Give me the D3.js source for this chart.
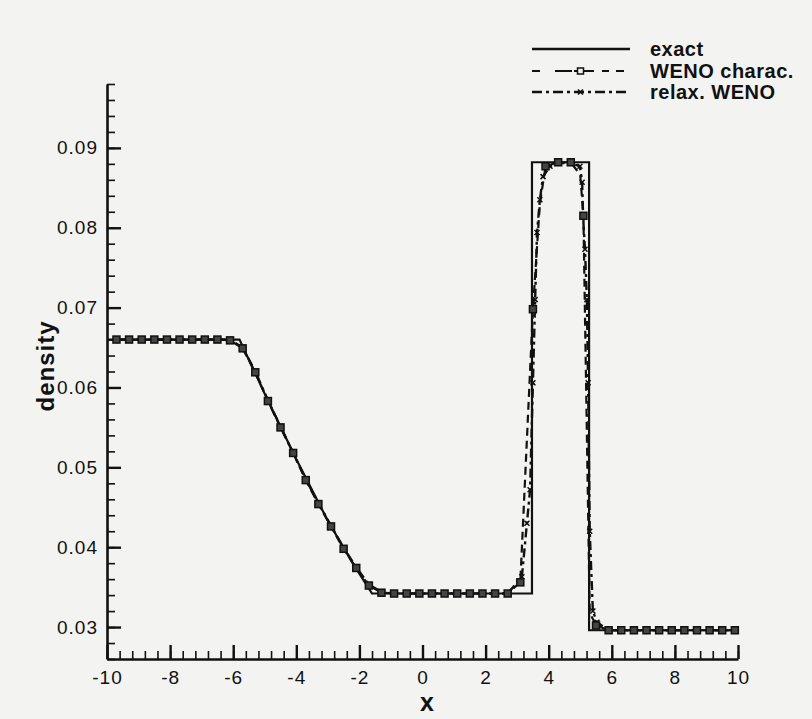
<!DOCTYPE html>
<html>
<head>
<meta charset="utf-8">
<script src="https://cdn.jsdelivr.net/npm/d3@7"></script>
<style>
  html, body { margin: 0; padding: 0; background: #f3f3f1; }
  svg { display: block; }
  text { font-family: "Liberation Sans", Arial, sans-serif; fill: #111; }
</style>
</head>
<body>
<svg id="chart" width="812" height="719"></svg>
<script>
// ---- data ----
const xTicks = [-10, -8, -6, -4, -2, 0, 2, 4, 6, 8, 10];
const yTicks = [0.03, 0.04, 0.05, 0.06, 0.07, 0.08, 0.09];
const legendLabels = ["exact", "WENO charac.", "relax. WENO"];

const exactX = [-10, -5.8, -5.0, -4.0, -3.0, -2.2, -1.6, 3.47, 3.47, 5.28, 5.28, 10];
const exactY = [0.066, 0.066, 0.0592, 0.0510, 0.0433, 0.0379, 0.0342, 0.0342, 0.0882, 0.0882, 0.0296, 0.0296];

// WENO charac. : marked grid points (every 0.4) plus a few unmarked line points
const wenoX = [-9.7, -9.3, -8.9, -8.5, -8.1, -7.7, -7.3, -6.9, -6.5, -6.1,
               -5.7, -5.3, -4.9, -4.5, -4.1, -3.7, -3.3, -2.9, -2.5, -2.1, -1.7, -1.3,
               -0.9, -0.5, -0.1, 0.3, 0.7, 1.1, 1.5, 1.9, 2.3, 2.7,
               3.1, 3.5, 3.72, 3.9, 4.3, 4.7, 5.0, 5.1, 5.3, 5.5,
               5.9, 6.3, 6.7, 7.1, 7.5, 7.9, 8.3, 8.7, 9.1, 9.5, 9.9];
const wenoY = [0.066, 0.066, 0.066, 0.066, 0.066, 0.066, 0.066, 0.066, 0.066, 0.0659,
               0.0649, 0.0619, 0.0583, 0.0550, 0.0518, 0.0484, 0.0454, 0.0426, 0.0398, 0.0374, 0.0352, 0.0343,
               0.0342, 0.0342, 0.0342, 0.0342, 0.0342, 0.0342, 0.0342, 0.0342, 0.0342, 0.0342,
               0.0356, 0.0698, 0.0830, 0.0877, 0.0882, 0.0882, 0.0866, 0.0815, 0.0318, 0.0302,
               0.0296, 0.0296, 0.0296, 0.0296, 0.0296, 0.0296, 0.0296, 0.0296, 0.0296, 0.0296, 0.0296];
const wenoUnmarked = [3.72, 5.0, 5.3];

const relaxX = [-9.7, -8.9, -8.1, -7.3, -6.5, -6.1, -5.7, -5.3, -4.9, -4.5, -4.1, -3.7, -3.3, -2.9,
                -2.5, -2.1, -1.7, -1.3, -0.9, 0.3, 1.5, 2.7, 3.15, 3.31, 3.41, 3.5, 3.57, 3.63, 3.72,
                3.82, 4.04, 4.3, 4.7, 4.99, 5.06, 5.09, 5.15, 5.21, 5.25, 5.3, 5.4, 5.53, 5.9, 7.1,
                8.3, 9.5, 9.9];
const relaxY = [0.066, 0.066, 0.066, 0.066, 0.066, 0.066, 0.0650, 0.0620, 0.0584, 0.0551, 0.0518, 0.0485, 0.0455, 0.0427,
                0.0399, 0.0375, 0.0353, 0.0344, 0.0342, 0.0342, 0.0342, 0.0342, 0.0363, 0.0430, 0.0472, 0.0606, 0.0710, 0.0794, 0.0835,
                0.0864, 0.0877, 0.0881, 0.0881, 0.0877, 0.0857, 0.0814, 0.0773, 0.0710, 0.0606, 0.0420, 0.0320, 0.0306, 0.0296, 0.0296,
                0.0296, 0.0296, 0.0296];

// ---- layout ----
const svg = d3.select("#chart");
const x = d3.scaleLinear().domain([-10, 10]).range([107, 738]);
const y = d3.scaleLinear().domain([0.026, 0.098]).range([659, 84]);

const xMinor = d3.range(0, 51).map(i => -10 + i * 0.4);
const yMinor = d3.range(13, 50).map(i => +(i * 0.002).toFixed(3));

// minor ticks
svg.append("g").attr("transform", `translate(0,${y(0.026)})`)
  .call(d3.axisBottom(x).tickValues(xMinor).tickSize(-8).tickFormat(""))
  .call(g => g.select(".domain").remove())
  .call(g => g.selectAll("line").attr("stroke", "#111").attr("stroke-width", 1.6));
svg.append("g").attr("transform", `translate(${x(-10)},0)`)
  .call(d3.axisLeft(y).tickValues(yMinor).tickSize(-8).tickFormat(""))
  .call(g => g.select(".domain").remove())
  .call(g => g.selectAll("line").attr("stroke", "#111").attr("stroke-width", 1.6));

// major axes
const xAxis = svg.append("g").attr("transform", `translate(0,${y(0.026)})`)
  .call(d3.axisBottom(x).tickValues(xTicks).tickSize(-14).tickPadding(12).tickFormat(d => String(d)).tickSizeOuter(0));
xAxis.select(".domain").attr("stroke", "#111").attr("stroke-width", 2.6);
xAxis.selectAll("line").attr("stroke", "#111").attr("stroke-width", 2.4);
xAxis.selectAll("text").attr("font-size", 19).attr("letter-spacing", "1px")
  .attr("fill", "#111").style("font-family", "Liberation Sans, Arial, sans-serif");

const yAxis = svg.append("g").attr("transform", `translate(${x(-10)},0)`)
  .call(d3.axisLeft(y).tickValues(yTicks).tickSize(-14).tickPadding(9).tickFormat(d3.format(".2f")).tickSizeOuter(0));
yAxis.select(".domain").attr("stroke", "#111").attr("stroke-width", 2.6);
yAxis.selectAll("line").attr("stroke", "#111").attr("stroke-width", 2.4);
yAxis.selectAll("text").attr("font-size", 19).attr("letter-spacing", "1px")
  .attr("fill", "#111").style("font-family", "Liberation Sans, Arial, sans-serif");

// axis titles
svg.append("text").attr("x", 427).attr("y", 711).attr("text-anchor", "middle")
  .attr("font-size", 25).attr("font-weight", "bold").text("x");
svg.append("text").attr("transform", `translate(54,366) rotate(-90)`).attr("text-anchor", "middle")
  .attr("font-size", 24).attr("font-weight", "bold").attr("letter-spacing", "1px").text("density");

// ---- series ----
const line = d3.line().x(d => x(d[0])).y(d => y(d[1]));
const exactPts = exactX.map((v, i) => [v, exactY[i]]);
const wenoPts = wenoX.map((v, i) => [v, wenoY[i]]);
const relaxPts = relaxX.map((v, i) => [v, relaxY[i]]);

svg.append("path").datum(relaxPts).attr("d", line).attr("fill", "none")
  .attr("stroke", "#111").attr("stroke-width", 2.4).attr("stroke-dasharray", "9,4,3,4");
svg.append("path").datum(wenoPts).attr("d", line).attr("fill", "none")
  .attr("stroke", "#111").attr("stroke-width", 2.2).attr("stroke-dasharray", "8,5");
svg.append("path").datum(exactPts).attr("d", line).attr("fill", "none")
  .attr("stroke", "#111").attr("stroke-width", 2.2);

// relax markers (small x)
svg.append("g").selectAll("path").data(relaxPts).join("path")
  .attr("d", d => { const cx = x(d[0]), cy = y(d[1]); return `M${cx-2.5},${cy-2.5}L${cx+2.5},${cy+2.5}M${cx-2.5},${cy+2.5}L${cx+2.5},${cy-2.5}`; })
  .attr("stroke", "#111").attr("stroke-width", 1.5);
// weno markers (squares)
svg.append("g").selectAll("rect").data(wenoPts.filter(d => !wenoUnmarked.includes(d[0]))).join("rect")
  .attr("x", d => x(d[0]) - 3.5).attr("y", d => y(d[1]) - 3.5)
  .attr("width", 7).attr("height", 7)
  .attr("fill", "#444").attr("stroke", "#111").attr("stroke-width", 1.5);

// ---- legend ----
const lg = svg.append("g");
const legY = [49, 71, 92];
lg.append("line").attr("x1", 532).attr("x2", 630).attr("y1", legY[0]).attr("y2", legY[0])
  .attr("stroke", "#111").attr("stroke-width", 2.6);
lg.append("line").attr("x1", 532).attr("x2", 630).attr("y1", legY[1]).attr("y2", legY[1])
  .attr("stroke", "#111").attr("stroke-width", 2).attr("stroke-dasharray", "8,15,17,2,20,8,7,7");
lg.append("rect").attr("x", 577.5).attr("y", legY[1] - 3).attr("width", 6).attr("height", 6)
  .attr("fill", "#f3f3f1").attr("stroke", "#111").attr("stroke-width", 1.5);
lg.append("line").attr("x1", 532).attr("x2", 630).attr("y1", legY[2]).attr("y2", legY[2])
  .attr("stroke", "#111").attr("stroke-width", 2.4).attr("stroke-dasharray", "10,4,3,4");
lg.append("path").attr("d", `M578,${legY[2]-2.5}L583,${legY[2]+2.5}M578,${legY[2]+2.5}L583,${legY[2]-2.5}`)
  .attr("stroke", "#111").attr("stroke-width", 1.5);
lg.selectAll("text.leg").data(legendLabels).join("text").attr("class", "leg")
  .attr("x", 650).attr("y", (d, i) => legY[i] + 7)
  .attr("font-size", 20).attr("font-weight", "bold").attr("letter-spacing", "0.5px")
  .text(d => d);
</script>
</body>
</html>
